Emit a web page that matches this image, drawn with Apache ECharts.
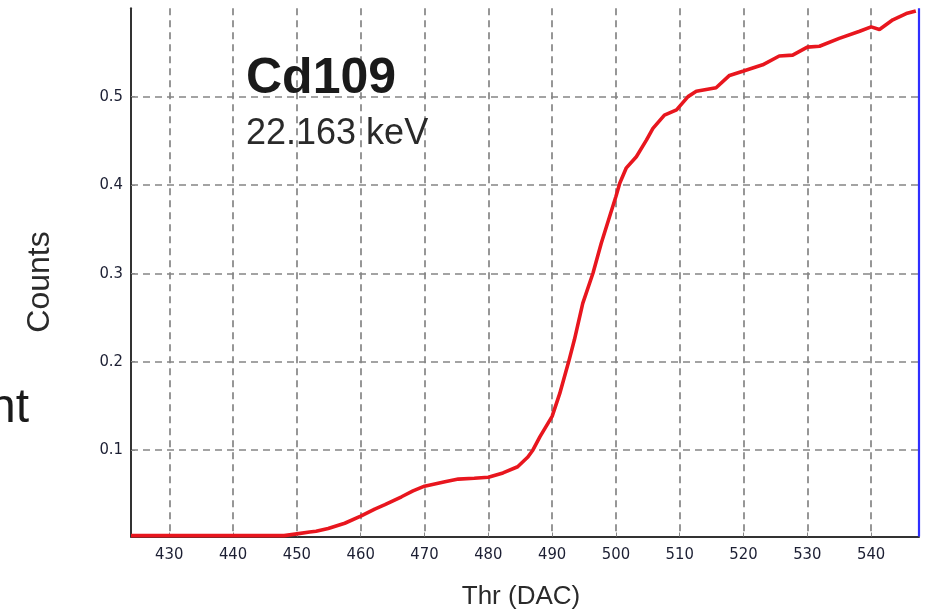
<!DOCTYPE html>
<html>
<head>
<meta charset="utf-8">
<title>Cd109 threshold scan</title>
<script src="https://cdn.jsdelivr.net/npm/echarts@6/dist/echarts.min.js"></script>
<style>
  html, body { margin: 0; padding: 0; background: #fff; }
  #chart { width: 926px; height: 613px; }
</style>
</head>
<body>
<div id="chart"></div>
<script>
// Threshold scan of a Cd109 source: counts (normalised) vs. threshold DAC
const thr = [
  424, 448, 450, 452, 453, 454.9, 457.5, 460, 462.2, 463.8, 466.4, 468.2, 470,
  473.2, 475.3, 477.8, 480, 482.3, 484.6, 486.2, 487.0, 488.1, 490, 491.2,
  492.6, 493.5, 494.8, 496.4, 497.7, 499.0, 500, 500.6, 501.6, 503.2, 504.8,
  505.8, 507.6, 509.5, 511.3, 512.6, 515.7, 517.8, 520, 523, 525.6, 527.7,
  530, 531.9, 535, 538.2, 540, 541.3, 543.4, 545.5, 547
];
const counts = [
  0.003, 0.003, 0.005, 0.007, 0.008, 0.011, 0.017, 0.025, 0.033, 0.038, 0.047, 0.0536, 0.059,
  0.064, 0.067, 0.068, 0.069, 0.074, 0.081, 0.092, 0.100, 0.115, 0.138, 0.164,
  0.200, 0.225, 0.266, 0.300, 0.334, 0.364, 0.387, 0.402, 0.419, 0.432, 0.451,
  0.464, 0.479, 0.485, 0.500, 0.506, 0.510, 0.524, 0.529, 0.536, 0.546, 0.547,
  0.556, 0.557, 0.566, 0.574, 0.579, 0.576, 0.587, 0.594, 0.597
];
// current threshold cursor (blue marker)
const cursorThr = 547.5;

const sourceName = 'Cd109';
const sourceEnergy = '22.163 keV';
const xName = 'Thr (DAC)';
const yName = 'Counts';
const sideText = 'nt';

const tickFont = '"DejaVu Sans Condensed", "DejaVu Sans", sans-serif';
const textFont = '"Liberation Sans", Arial, sans-serif';

const chart = echarts.init(document.getElementById('chart'), null, { renderer: 'canvas' });

const gridDash = { color: '#858585', width: 1.7, type: [7, 5] };

chart.setOption({
  animation: false,
  backgroundColor: '#fff',
  grid: { left: 131, right: 7, top: 8.3, bottom: 76.5, containLabel: false },
  xAxis: {
    type: 'value',
    min: 424,
    max: 547.5,
    minInterval: 10,
    maxInterval: 10,
    axisLine: { show: true, lineStyle: { color: '#333', width: 2 } },
    axisTick: { show: true, inside: true, length: 4, lineStyle: { color: '#888' } },
    axisLabel: {
      show: true, margin: 10, color: '#1c1f33', fontSize: 16.5, fontFamily: tickFont,
      showMinLabel: false, showMaxLabel: false
    },
    splitLine: { show: true, showMinLine: false, showMaxLine: false, lineStyle: gridDash }
  },
  yAxis: {
    type: 'value',
    min: 0.002,
    max: 0.6,
    minInterval: 0.1,
    maxInterval: 0.1,
    axisLine: { show: true, lineStyle: { color: '#333', width: 2 } },
    axisTick: { show: true, inside: true, length: 4, lineStyle: { color: '#888' } },
    axisLabel: {
      show: true, margin: 8, color: '#1c1f33', fontSize: 16.5, fontFamily: tickFont,
      showMinLabel: false, showMaxLabel: false,
      formatter: v => v.toFixed(1)
    },
    splitLine: { show: true, showMinLine: false, showMaxLine: false, lineStyle: gridDash }
  },
  series: [{
    type: 'line',
    data: thr.map((t, i) => [t, counts[i]]),
    showSymbol: false,
    symbol: 'none',
    lineStyle: { color: '#e8161e', width: 3.6 },
    clip: true,
    z: 3,
    markLine: {
      silent: true,
      symbol: 'none',
      label: { show: false },
      lineStyle: { color: '#2f2fff', width: 2.2, type: 'solid' },
      data: [{ xAxis: cursorThr }]
    }
  }],
  graphic: [
    {
      type: 'text', x: 246, y: 79, z: 10,
      style: { text: sourceName, fill: '#1a1a1a', font: 'bold 50px ' + textFont,
               align: 'left', verticalAlign: 'middle' }
    },
    {
      type: 'text', x: 246, y: 134, z: 10,
      style: { text: sourceEnergy, fill: '#2a2a2a', font: '36px ' + textFont,
               align: 'left', verticalAlign: 'middle' }
    },
    {
      type: 'text', x: 521, y: 597, z: 10,
      style: { text: xName, fill: '#2a2a2a', font: '26px ' + textFont,
               align: 'center', verticalAlign: 'middle' }
    },
    {
      type: 'text', x: 40, y: 282, rotation: Math.PI / 2, z: 10,
      style: { text: yName, fill: '#2a2a2a', font: '32px ' + textFont,
               align: 'center', verticalAlign: 'middle' }
    },
    {
      type: 'text', x: 29, y: 409, z: 10,
      style: { text: sideText, fill: '#1a1a1a', font: '48px ' + textFont,
               align: 'right', verticalAlign: 'middle' }
    }
  ]
});
</script>
</body>
</html>
